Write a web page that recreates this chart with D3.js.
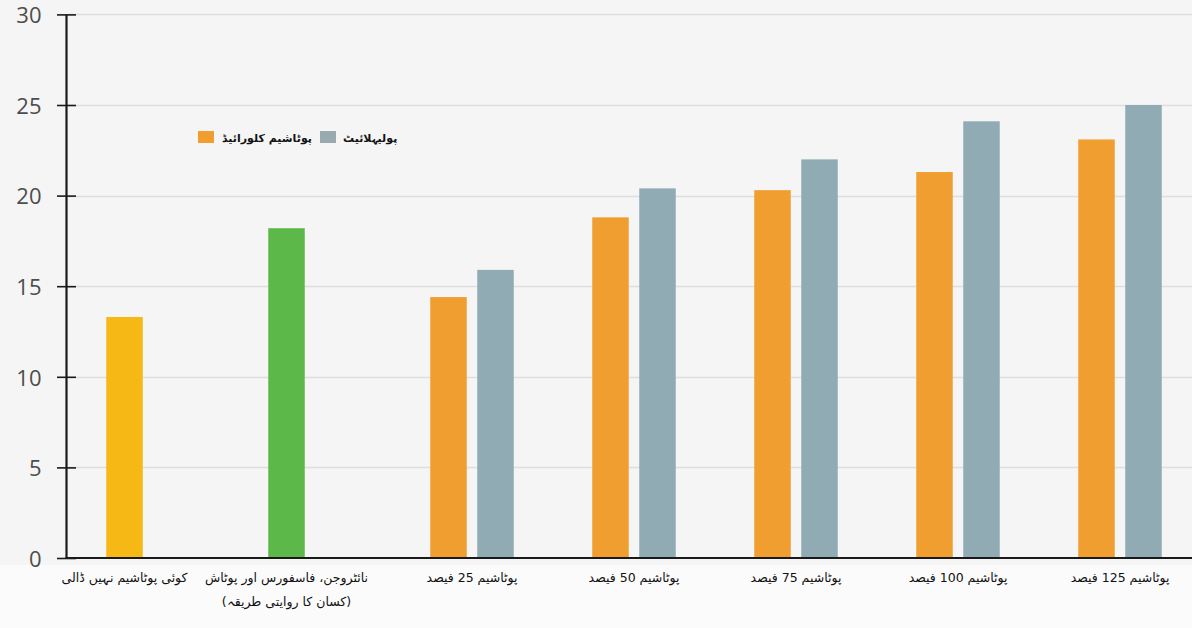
<!DOCTYPE html>
<html>
<head>
<meta charset="utf-8">
<script src="https://cdn.jsdelivr.net/npm/d3@7"></script>
<style>
  html, body { margin: 0; padding: 0; background: #f5f5f5; }
  svg { display: block; }
  .tick-label { font-family: "Open Sans", "DejaVu Sans", sans-serif; font-size: 22px; fill: #4d4d4d; }
  .cat-label { font-family: "DejaVu Sans", "Noto Sans", sans-serif; font-size: 12.5px; fill: #111; }
  .legend-label { font-family: "DejaVu Sans", "Noto Sans", sans-serif; font-size: 11px; font-weight: bold; fill: #111; }
</style>
</head>
<body>
<svg id="chart" width="1192" height="628"></svg>
<script>
// Treatments along the x axis (two-line labels are split with "|")
const categories = [
  "کوئی پوٹاشیم نہیں ڈالی",
  "نائٹروجن، فاسفورس اور پوٹاش|(کسان کا روایتی طریقہ)",
  "پوٹاشیم 25 فیصد",
  "پوٹاشیم 50 فیصد",
  "پوٹاشیم 75 فیصد",
  "پوٹاشیم 100 فیصد",
  "پوٹاشیم 125 فیصد"
];

// First bar of each treatment: the two controls, then potassium chloride
const firstValues = [13.3, 18.2, 14.4, 18.8, 20.3, 21.3, 23.1];
// Second bar: polyhalite (controls have none)
const secondValues = [null, null, 15.9, 20.4, 22.0, 24.1, 25.0];

const yTicks = [0, 5, 10, 15, 20, 25, 30];

const seriesNames = ["پوٹاشیم کلورائیڈ", "پولیہلائیٹ"];

// Colours
const firstColors = ["#f5b815", "#5cb848", "#f09e30", "#f09e30", "#f09e30", "#f09e30", "#f09e30"];
const secondColor = "#91abb4";
const legendColors = ["#f09e30", "#98aab0"];

const W = 1192, H = 628;
const svg = d3.select("#chart");

// Lighter strip under the axis
svg.append("rect").attr("x", 0).attr("y", 565).attr("width", W).attr("height", H - 565).attr("fill", "#fbfbfb");

const y = d3.scaleLinear().domain([0, 30]).range([558, 14.4]);
const x = d3.scaleBand().domain(d3.range(categories.length)).range([43.5, 1177.5]).paddingInner(0).paddingOuter(0);

const barW = 36.5;
const pairGap = 47; // centre-to-centre distance within a pair
const axisX = 66.5;

// Gridlines
svg.append("g")
  .selectAll("line")
  .data(yTicks.filter(d => d > 0))
  .join("line")
  .attr("x1", axisX + 2).attr("x2", W)
  .attr("y1", d => Math.round(y(d)) + 0.5).attr("y2", d => Math.round(y(d)) + 0.5)
  .attr("stroke", "#dedede").attr("stroke-width", 1.5);

const center = i => x(i) + x.bandwidth() / 2;

// First bars
svg.append("g")
  .selectAll("rect")
  .data(firstValues)
  .join("rect")
  .attr("x", (d, i) => center(i) - barW / 2)
  .attr("y", d => y(d))
  .attr("width", barW)
  .attr("height", d => y(0) - y(d))
  .attr("fill", (d, i) => firstColors[i]);

// Second bars
svg.append("g")
  .selectAll("rect")
  .data(secondValues.map((v, i) => ({ v, i })).filter(d => d.v != null))
  .join("rect")
  .attr("x", d => center(d.i) + pairGap - barW / 2)
  .attr("y", d => y(d.v))
  .attr("width", barW)
  .attr("height", d => y(0) - y(d.v))
  .attr("fill", secondColor);

// Y axis
const yAxis = d3.axisLeft(y).tickValues(yTicks).tickSize(0).tickPadding(0);
const gy = svg.append("g").attr("transform", `translate(${axisX},0)`).call(yAxis);
gy.select(".domain").remove();
gy.selectAll(".tick text").remove();
gy.selectAll(".tick").append("line")
  .attr("x1", -9.5).attr("x2", 9.5)
  .attr("stroke", "#1a1a1a").attr("stroke-width", 1.6);
gy.selectAll(".tick").append("text")
  .attr("class", "tick-label")
  .attr("x", -25).attr("dy", "0.38em")
  .attr("text-anchor", "end")
  .text(d => d);
gy.append("line")
  .attr("x1", 0).attr("x2", 0)
  .attr("y1", y(30)).attr("y2", y(0) + 1)
  .attr("stroke", "#1a1a1a").attr("stroke-width", 2.2);

// X axis line
svg.append("line")
  .attr("x1", axisX - 1).attr("x2", W)
  .attr("y1", y(0)).attr("y2", y(0))
  .attr("stroke", "#1a1a1a").attr("stroke-width", 2.2);

// Category labels
const labels = svg.append("g")
  .selectAll("text")
  .data(categories)
  .join("text")
  .attr("class", "cat-label")
  .attr("direction", "rtl")
  .attr("text-anchor", "middle")
  .attr("x", (d, i) => secondValues[i] != null ? center(i) + pairGap / 2 : center(i))
  .attr("y", 582);
labels.each(function (d) {
  const t = d3.select(this);
  d.split("|").forEach((line, k) => {
    t.append("tspan")
      .attr("x", t.attr("x"))
      .attr("dy", k === 0 ? 0 : 24)
      .text(line);
  });
});

// Legend: swatch on the left, label to its right
const legend = svg.append("g");
const legendItems = [
  { name: seriesNames[0], color: legendColors[0], sx: 198, tx: 222 },
  { name: seriesNames[1], color: legendColors[1], sx: 320, tx: 343 }
];
legend.selectAll("rect")
  .data(legendItems)
  .join("rect")
  .attr("x", d => d.sx).attr("y", 131)
  .attr("width", 16).attr("height", 12)
  .attr("fill", d => d.color);
legend.selectAll("text")
  .data(legendItems)
  .join("text")
  .attr("class", "legend-label")
  .attr("direction", "rtl")
  .attr("text-anchor", "end")
  .attr("x", d => d.tx).attr("y", 142)
  .text(d => d.name);
</script>
</body>
</html>
